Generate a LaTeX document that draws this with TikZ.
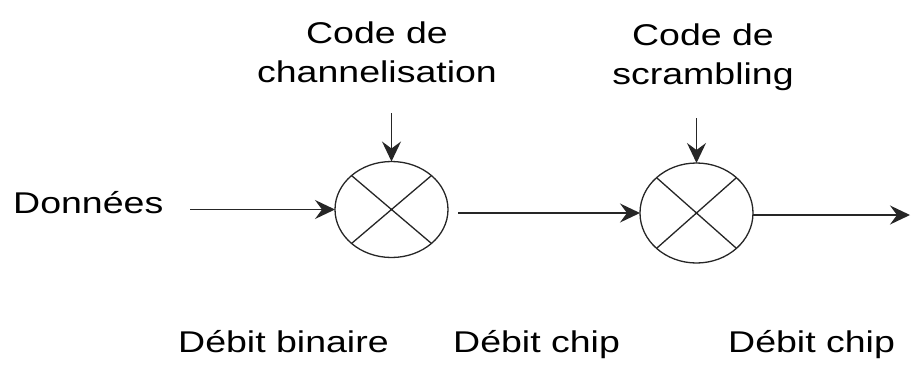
\documentclass[tikz,border=0pt]{standalone}
\usepackage{fontspec}
\newfontfamily\lab{Liberation Sans}[FakeStretch=1.25]
\usetikzlibrary{arrows.meta,shapes.geometric}
\begin{document}
\begin{tikzpicture}[x=1pt,y=-1pt,
  ln/.style={line width=1.3pt, draw=black!85},
  arr/.style={ln, -{Stealth[length=20pt,width=19pt,inset=7pt]}},
  mixer/.style={ellipse, ln, inner sep=0pt, outer sep=0pt, minimum width=113pt, minimum height=96pt},
  toplab/.style={font=\lab\fontsize{30}{39}\selectfont, align=center, anchor=base, inner sep=0pt},
  lab/.style={font=\lab\fontsize{30}{35}\selectfont, anchor=base west, inner sep=0pt}]
\useasboundingbox[fill=white] (0,0) rectangle (911,365);
\node[mixer] (mixA) at (391.5,209.5) {};
\node[mixer, minimum height=100pt] (mixB) at (696.5,213) {};
\draw[ln] (mixA.north west) -- (mixA.south east) (mixA.north east) -- (mixA.south west);
\draw[ln] (mixB.north west) -- (mixB.south east) (mixB.north east) -- (mixB.south west);
\node[lab] (don) at (13,213) {Données};
\node[toplab] (codeA) at (377,82) {Code de\\channelisation};
\node[toplab] (codeB) at (703,84) {Code de\\scrambling};
\node[lab] (debA) at (178,352) {Débit binaire};
\node[lab] (debB) at (453,352) {Débit chip};
\node[lab] (debC) at (728,352) {Débit chip};
\coordinate (inA) at (190,209.5);
\coordinate (inB) at (458,213);
\coordinate (out) at (910,215);
\coordinate (topA) at (391.5,113);
\coordinate (topB) at (696.5,118);
\draw[arr] (inA) -- (mixA);
\draw[arr] (inB) -- (mixB);
\draw[arr] ([yshift=-2pt]mixB.east) -- (out);
\draw[arr] (topA) -- (mixA);
\draw[arr] (topB) -- (mixB);
\end{tikzpicture}
\end{document}
